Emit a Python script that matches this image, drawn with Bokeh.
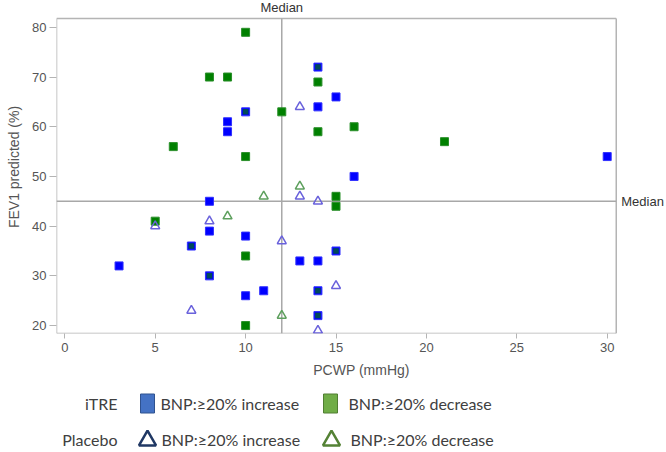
from bokeh.plotting import figure
from bokeh.models import Range1d, FixedTicker
from bokeh.layouts import column
from bokeh.embed import file_html
from bokeh.resources import INLINE
from bokeh.core.properties import value

# iTRE, BNP >=20% increase (blue squares)
itre_inc_x = [15, 14, 9, 9, 16, 30, 8, 8, 10, 3, 13, 14, 11, 10]
itre_inc_y = [66, 64, 61, 59, 50, 54, 45, 39, 38, 32, 33, 33, 27, 26]
# iTRE, BNP >=20% decrease (green squares)
itre_dec_x = [10, 8, 9, 14, 12, 14, 16, 6, 10, 21, 15, 15, 5, 10, 10]
itre_dec_y = [79, 70, 70, 69, 63, 59, 60, 56, 54, 57, 46, 44, 41, 34, 20]
# points where an increase and a decrease square coincide
overlap_x = [14, 10, 7, 15, 8, 14, 14]
overlap_y = [72, 63, 36, 35, 30, 27, 22]
# Placebo, BNP >=20% increase (blue triangles)
plc_inc_x = [13, 13, 14, 5, 8, 12, 15, 7, 14]
plc_inc_y = [64, 46, 45, 40, 41, 37, 28, 23, 19]
# Placebo, BNP >=20% decrease (green triangles)
plc_dec_x = [11, 13, 9, 12]
plc_dec_y = [46, 48, 42, 22]

median_x = 12
median_y = 45
median_label = "Median"
x_ticks = [0, 5, 10, 15, 20, 25, 30]
y_ticks = [20, 30, 40, 50, 60, 70, 80]

legend_groups = ["iTRE", "Placebo"]
legend_labels = ["BNP:\u226520% increase", "BNP:\u226520% decrease"]

# plot box (data limits of the drawn frame)
X0, X1, Y0, Y1 = -0.46, 30.5, 18.4, 81.8

FONT = "Liberation Sans"
GREY = "#b4b4b4"
TXT = "#555555"
W = 666
BL = 56

p = figure(width=W, height=382, x_range=Range1d(X0, 33.28), y_range=Range1d(Y0, 85.4),
           output_backend="svg", toolbar_location=None,
           min_border_left=BL, min_border_right=0, min_border_top=0, min_border_bottom=49)
p.grid.visible = False
p.outline_line_color = None

p.xaxis.ticker = FixedTicker(ticks=x_ticks)
p.yaxis.ticker = FixedTicker(ticks=y_ticks)
p.axis.axis_line_color = None
p.axis.major_tick_line_color = GREY
p.axis.minor_tick_line_color = None
p.axis.major_tick_in = 0
p.xaxis.major_tick_out = 5
p.yaxis.major_tick_out = 7
p.axis.major_label_text_font = FONT
p.axis.major_label_text_font_size = "13px"
p.axis.major_label_text_color = TXT
p.axis.axis_label_text_font = FONT
p.axis.axis_label_text_font_size = "14px"
p.axis.axis_label_text_color = TXT
p.axis.axis_label_text_font_style = "normal"
p.xaxis.axis_label = "PCWP (mmHg)"
p.yaxis.axis_label = "FEV1 predicted (%)"
p.xaxis.major_label_standoff = 4
p.yaxis.major_label_standoff = 3
p.xaxis.axis_label_standoff = 7
p.yaxis.axis_label_standoff = 7

# frame box
p.segment(x0=[X0, X0, X0, X1], y0=[Y0, Y1, Y0, Y0], x1=[X1, X1, X0, X1], y1=[Y0, Y1, Y1, Y1],
          line_color=GREY, line_width=1.5)
# median reference lines and their labels
p.segment(x0=[median_x, X0], y0=[Y0, median_y], x1=[median_x, X1], y1=[Y1, median_y],
          line_color="#a8a8a8", line_width=1.5)
p.text(x=[median_x], y=[Y1], text=[median_label], text_align="center", text_baseline="middle",
       y_offset=-11, text_font=value(FONT), text_font_size="13px", text_color="#333333")
p.text(x=[X1], y=[median_y], text=[median_label], text_align="left", text_baseline="middle",
       x_offset=5, text_font=value(FONT), text_font_size="13px", text_color="#333333")

p.scatter(itre_inc_x, itre_inc_y, marker="square", size=8, fill_color="#0000ff", line_color="#3030ff", line_width=1)
p.scatter(itre_dec_x, itre_dec_y, marker="square", size=8, fill_color="#008000", line_color="#2a8f2a", line_width=1)
p.scatter(overlap_x, overlap_y, marker="square", size=8, fill_color="#0000ff", line_color="#3030ff", line_width=1)
p.scatter(overlap_x, overlap_y, marker="square", size=5.5, fill_color="#007000", fill_alpha=0.65, line_color=None)
p.scatter(plc_inc_x, plc_inc_y, marker="triangle", size=9, fill_color=None, line_color="#6a62dc", line_width=1.5)
p.scatter(plc_dec_x, plc_dec_y, marker="triangle", size=9, fill_color=None, line_color="#5ea05e", line_width=1.5)

# legend panel: its frame is aligned with the main frame, coordinates are page pixels
lg = figure(width=W, height=66, x_range=Range1d(56, 666), y_range=Range1d(448, 382),
            output_backend="svg", toolbar_location=None,
            min_border_left=BL, min_border_right=0, min_border_top=0, min_border_bottom=0)
lg.axis.visible = False
lg.grid.visible = False
lg.outline_line_color = None
LFONT = value("Lato")
LC = "#404040"
rows = [403, 439]
lg.text(x=[117, 117], y=rows, text=legend_groups, text_align="right", text_baseline="middle",
        text_font=LFONT, text_font_size="16px", text_color=LC)
lg.rect(x=[147], y=[rows[0]], width=14, height=19, fill_color="#4472c4", line_color="#2f528f", line_width=1)
lg.rect(x=[330], y=[rows[0]], width=14, height=19, fill_color="#70ad47", line_color="#507e32", line_width=1)
lg.scatter(x=[147], y=[rows[1] + 1], marker="triangle", size=17, fill_color=None,
           line_color="#203864", line_width=2.5)
lg.scatter(x=[331], y=[rows[1] + 1], marker="triangle", size=17, fill_color=None,
           line_color="#548235", line_width=2.5)
lg.text(x=[160, 348], y=[rows[0], rows[0]], text=legend_labels, text_align="left", text_baseline="middle",
        text_font=LFONT, text_font_size="16px", text_color=LC)
lg.text(x=[161, 350], y=[rows[1], rows[1]], text=legend_labels, text_align="left", text_baseline="middle",
        text_font=LFONT, text_font_size="16px", text_color=LC)

layout = column(p, lg, spacing=0)
open("out.html", "w").write(file_html(layout, INLINE))
